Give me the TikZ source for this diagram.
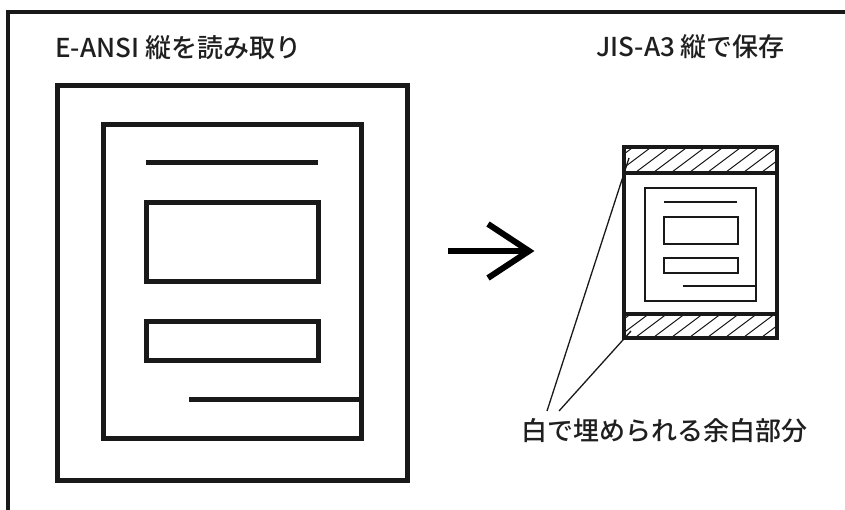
\documentclass[tikz,border=0pt]{standalone}
\usepackage{fontspec}
\setmainfont{Noto Sans CJK JP}[UprightFont=* Medium]
\usetikzlibrary{positioning}

\begin{document}
\begin{tikzpicture}[x=1bp, y=-1bp]
    % Define styles
    \tikzstyle{caption} = [anchor=west, inner sep=0pt, text=black!88, font=\fontsize{26bp}{30bp}\selectfont]
    \tikzstyle{pageline} = [line width=5bp, draw=black!90]
    \tikzstyle{boldline} = [line width=4.5bp, draw=black!90]
    \tikzstyle{thinline} = [line width=2bp, draw=black!90]
    \tikzstyle{hatch} = [line width=1bp, draw=black!90]
    \tikzstyle{leader} = [line width=1.3bp, draw=black!90]

    \useasboundingbox (0,0) rectangle (845,510);

    % Frame
    \draw [boldline] (8,520) -- (8,12) -- (855,12);

    % Titles
    \node [caption] (srctitle) at (55,48) {E-ANSI 縦を読み取り};
    \node [caption] (dsttitle) at (596,47) {JIS-A3 縦で保存};

    % Left page - read in
    \draw [pageline] (57,86) rectangle (407,480);
    \draw [pageline] (103,125) rectangle (361,438);
    \draw [pageline] (146,163) -- (318,163);
    \draw [pageline] (146,203) rectangle (318,282);
    \draw [pageline] (146,321) rectangle (318,360);
    \draw [pageline] (189,399) -- (361,399);

    % Arrow
    \draw [line width=6bp] (448,251) -- (527,251);
    \draw [line width=6bp, miter limit=10] (488,224) -- (529,251) -- (488,278);

    % Right page - saved, hatched bands
    \begin{scope}
        \clip (624,147) rectangle (777,173);
        \foreach \x in {560,578,...,800}
            \draw [hatch] (\x,175) -- ++(40,-30);
    \end{scope}
    \begin{scope}
        \clip (624,314) rectangle (777,338);
        \foreach \x in {560,578,...,800}
            \draw [hatch] (\x,340) -- ++(40,-30);
    \end{scope}
    \draw [boldline] (624,147) rectangle (777,338);
    \draw [boldline] (624,173) -- (777,173);
    \draw [boldline] (624,314) -- (777,314);
    \draw [thinline] (645,188) rectangle (756,301);
    \draw [thinline] (664,202) -- (737,202);
    \draw [thinline] (664,217) rectangle (738,244);
    \draw [thinline] (664,258) rectangle (738,273);
    \draw [thinline] (683,286) -- (756,286);

    % Margin label with leaders
    \node [caption] (margin) at (521,431) {白で埋められる余白部分};
    \coordinate (lead1) at (547,411);
    \coordinate (lead2) at (559,411);
    \coordinate (topband) at (629,158);
    \coordinate (botband) at (631,331);
    \draw [leader] (lead1) -- (topband);
    \draw [leader] (lead2) -- (botband);

\end{tikzpicture}
\end{document}
